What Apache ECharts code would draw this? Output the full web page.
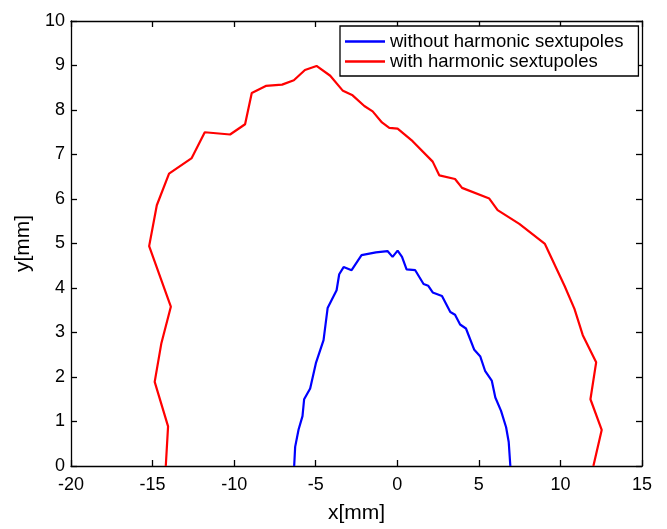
<!DOCTYPE html>
<html>
<head>
<meta charset="utf-8">
<script src="https://cdn.jsdelivr.net/npm/echarts@6/dist/echarts.min.js"></script>
<style>
html,body{margin:0;padding:0;background:#fff;}
#chart{width:667px;height:529px;}
</style>
</head>
<body>
<div id="chart"></div>
<script>
// Data
var seriesNames = ['without harmonic sextupoles', 'with harmonic sextupoles'];
var xTicks = [-20, -15, -10, -5, 0, 5, 10, 15];
var yTicks = [0, 1, 2, 3, 4, 5, 6, 7, 8, 9, 10];

var withoutX = [6.93, 6.83, 6.67, 6.36, 6.01, 5.79, 5.38, 5.09, 4.72, 4.21, 3.85, 3.54, 3.25, 2.74, 2.17, 1.90, 1.61, 1.10, 0.57, 0.29, 0.02, -0.29, -0.60, -1.31, -2.19, -2.80, -3.29, -3.56, -3.72, -4.27, -4.52, -4.99, -5.34, -5.71, -5.81, -6.05, -6.26, -6.32];
var withoutY = [0.00, 0.54, 0.87, 1.24, 1.54, 1.92, 2.14, 2.46, 2.61, 3.09, 3.18, 3.40, 3.46, 3.82, 3.90, 4.05, 4.09, 4.40, 4.42, 4.70, 4.84, 4.70, 4.83, 4.80, 4.74, 4.40, 4.47, 4.31, 3.95, 3.55, 2.83, 2.31, 1.74, 1.50, 1.12, 0.82, 0.43, 0.00];

var withX = [12.02, 12.53, 11.84, 12.19, 11.37, 10.86, 10.25, 9.05, 7.48, 6.15, 5.64, 3.97, 3.54, 2.58, 2.17, 0.94, 0.02, -0.49, -0.94, -1.51, -2.02, -2.74, -3.33, -4.11, -4.95, -5.66, -6.34, -7.06, -8.06, -8.92, -9.33, -10.25, -11.80, -12.60, -13.99, -14.74, -15.21, -13.88, -14.46, -14.87, -14.05, -14.19];
var withY = [0.00, 0.81, 1.50, 2.33, 2.94, 3.53, 4.05, 4.99, 5.44, 5.75, 6.01, 6.25, 6.45, 6.53, 6.84, 7.30, 7.58, 7.60, 7.72, 7.97, 8.09, 8.33, 8.43, 8.77, 8.99, 8.90, 8.67, 8.57, 8.54, 8.38, 7.68, 7.45, 7.50, 6.92, 6.57, 5.86, 4.94, 3.58, 2.76, 1.89, 0.89, 0.00];

function zip(xs, ys) { return xs.map(function (x, i) { return [x, ys[i]]; }); }

var FONT = 'Liberation Sans, Arial, Helvetica, sans-serif';
var chart = echarts.init(document.getElementById('chart'), null, {renderer: 'canvas'});

var AXC = {color: '#000', width: 1.3};

function xAxisCfg(pos, showLabel) {
  return {
    type: 'value', position: pos,
    min: xTicks[0], max: xTicks[xTicks.length - 1], interval: 5,
    name: showLabel ? 'x[mm]' : '', nameLocation: 'middle', nameGap: 37,
    nameTextStyle: {fontFamily: FONT, fontSize: 21, color: '#000'},
    axisLine: {show: true, onZero: false, lineStyle: AXC},
    axisTick: {show: true, inside: true, length: 6, lineStyle: AXC},
    axisLabel: {show: showLabel, margin: 10, fontFamily: FONT, fontSize: 18, color: '#000'},
    splitLine: {show: false}
  };
}
function yAxisCfg(pos, showLabel) {
  return {
    type: 'value', position: pos,
    min: yTicks[0], max: yTicks[yTicks.length - 1], interval: 1,
    name: showLabel ? 'y[mm]' : '', nameLocation: 'middle', nameGap: 20, nameRotate: 90,
    nameTextStyle: {fontFamily: FONT, fontSize: 21, color: '#000'},
    axisLine: {show: true, onZero: false, lineStyle: AXC},
    axisTick: {show: true, inside: true, length: 6, lineStyle: AXC},
    axisLabel: {show: showLabel, margin: 6, fontFamily: FONT, fontSize: 18, color: '#000'},
    splitLine: {show: false}
  };
}

chart.setOption({
  animation: false,
  backgroundColor: '#fff',
  grid: {left: 71, right: 25, top: 21, bottom: 58},
  xAxis: [xAxisCfg('bottom', true), xAxisCfg('top', false)],
  yAxis: [yAxisCfg('left', true), yAxisCfg('right', false)],
  legend: {
    orient: 'vertical',
    left: 340, top: 26,
    padding: [6, 15, 5, 5],
    itemGap: 1,
    icon: 'rect',
    itemWidth: 40, itemHeight: 2.4,
    backgroundColor: '#fff',
    borderColor: '#000', borderWidth: 1.3,
    textStyle: {fontFamily: FONT, fontSize: 18.5, color: '#000'},
    data: seriesNames
  },
  series: [
    {
      name: seriesNames[0], type: 'line', xAxisIndex: 0, yAxisIndex: 0,
      data: zip(withoutX, withoutY), symbol: 'none', smooth: false,
      lineStyle: {color: '#0000ff', width: 2.2}, itemStyle: {color: '#0000ff'}
    },
    {
      name: seriesNames[1], type: 'line', xAxisIndex: 0, yAxisIndex: 0,
      data: zip(withX, withY), symbol: 'none', smooth: false,
      lineStyle: {color: '#ff0000', width: 2.2}, itemStyle: {color: '#ff0000'}
    }
  ]
});
</script>
</body>
</html>
